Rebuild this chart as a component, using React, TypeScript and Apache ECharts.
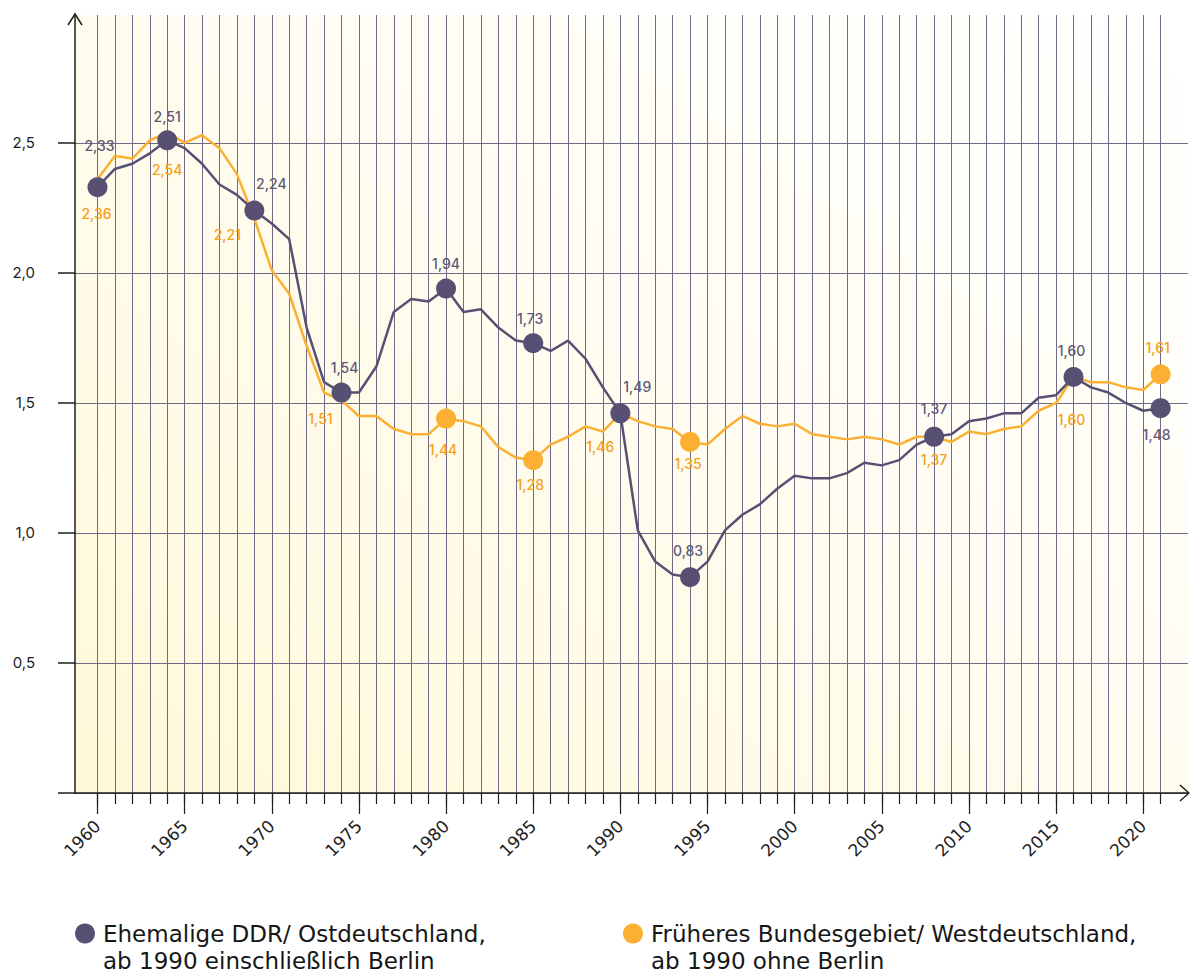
import React, { useEffect, useRef } from 'react';
import * as echarts from 'echarts';

const years = [
  1960, 1961, 1962, 1963, 1964, 1965, 1966, 1967, 1968, 1969,
  1970, 1971, 1972, 1973, 1974, 1975, 1976, 1977, 1978, 1979,
  1980, 1981, 1982, 1983, 1984, 1985, 1986, 1987, 1988, 1989,
  1990, 1991, 1992, 1993, 1994, 1995, 1996, 1997, 1998, 1999,
  2000, 2001, 2002, 2003, 2004, 2005, 2006, 2007, 2008, 2009,
  2010, 2011, 2012, 2013, 2014, 2015, 2016, 2017, 2018, 2019,
  2020, 2021,
];

const eastValues = [
  2.33, 2.40, 2.42, 2.46, 2.51, 2.48, 2.42, 2.34, 2.30, 2.24,
  2.19, 2.13, 1.79, 1.58, 1.54, 1.54, 1.64, 1.85, 1.90, 1.89,
  1.94, 1.85, 1.86, 1.79, 1.74, 1.73, 1.70, 1.74, 1.67, 1.56,
  1.46, 1.01, 0.89, 0.84, 0.83, 0.89, 1.01, 1.07, 1.11, 1.17,
  1.22, 1.21, 1.21, 1.23, 1.27, 1.26, 1.28, 1.34, 1.37, 1.38,
  1.43, 1.44, 1.46, 1.46, 1.52, 1.53, 1.60, 1.56, 1.54, 1.50,
  1.47, 1.48,
];

const westValues = [
  2.36, 2.45, 2.44, 2.51, 2.54, 2.50, 2.53, 2.48, 2.38, 2.21,
  2.01, 1.92, 1.72, 1.54, 1.51, 1.45, 1.45, 1.40, 1.38, 1.38,
  1.44, 1.43, 1.41, 1.33, 1.29, 1.28, 1.34, 1.37, 1.41, 1.39,
  1.46, 1.43, 1.41, 1.40, 1.35, 1.34, 1.40, 1.45, 1.42, 1.41,
  1.42, 1.38, 1.37, 1.36, 1.37, 1.36, 1.34, 1.37, 1.37, 1.35,
  1.39, 1.38, 1.40, 1.41, 1.47, 1.50, 1.60, 1.58, 1.58, 1.56,
  1.55, 1.61,
];

const highlightYears = [1960, 1964, 1969, 1974, 1980, 1985, 1990, 1994, 2008, 2016, 2021];
const westCircleYears = [1980, 1985, 1994, 2021];
const eastLabelOverrides: Record<number, string> = { 1990: '1,49' };
const xLabelYears = [1960, 1965, 1970, 1975, 1980, 1985, 1990, 1995, 2000, 2005, 2010, 2015, 2020];
const yTickValues = [0, 0.5, 1.0, 1.5, 2.0, 2.5];
const yLabelValues = [0.5, 1.0, 1.5, 2.0, 2.5];

const eastName = 'Ehemalige DDR/ Ostdeutschland, ab 1990 einschließlich Berlin';
const westName = 'Früheres Bundesgebiet/ Westdeutschland, ab 1990 ohne Berlin';

// label placement (style, not data)
const eastLabelOffsets: Record<number, number[]> = {
  1960: [2, -42], 1964: [0, -24], 1969: [17, -27], 1974: [3, -25], 1980: [0, -25],
  1985: [-3, -25], 1990: [17, -27], 1994: [-2, -27], 2008: [0, -28], 2016: [-2, -26], 2021: [-4, 26],
};
const westLabelOffsets: Record<number, number[]> = {
  1960: [-1, 34], 1964: [0, 37], 1969: [-27, 16], 1974: [-21, 18], 1980: [-3, 31],
  1985: [-3, 24], 1990: [-20, 33], 1994: [-2, 22], 2008: [0, 23], 2016: [-2, 43], 2021: [-3, -27],
};

const PURPLE = '#585073';
const ORANGE = '#fbb034';
const PURPLE_TEXT = '#5f5879';
const ORANGE_TEXT = '#f5a01a';
const GRID_COLOR = '#6f6a88';
const AXIS_COLOR = '#1e1e1e';
const FONT = 'Inter, "Noto Sans", sans-serif';
const WIDE_FONT = '"DejaVu Sans", Inter, sans-serif';

const fmt = (v: number) => v.toFixed(2).replace('.', ',');

export default function App() {
  const ref = useRef<HTMLDivElement>(null);

  useEffect(() => {
    document.body.style.margin = '0';
    if (!ref.current) return;
    const chart = echarts.init(ref.current, null, { renderer: 'svg' });

    const eastLine = years.map((y, i) => [y, eastValues[i]]);
    const westLine = years.map((y, i) => [y, westValues[i]]);

    const eastPoints = highlightYears.map((y) => {
      const i = years.indexOf(y);
      const v = eastValues[i];
      return {
        value: [y, v],
        symbolSize: 20,
        label: {
          show: true,
          position: 'inside',
          offset: eastLabelOffsets[y],
          formatter: eastLabelOverrides[y] ?? fmt(v),
        },
      };
    });
    const westPoints = highlightYears.map((y) => {
      const i = years.indexOf(y);
      const v = westValues[i];
      return {
        value: [y, v],
        symbolSize: westCircleYears.includes(y) ? 20 : 0,
        label: {
          show: true,
          position: 'inside',
          offset: westLabelOffsets[y],
          formatter: fmt(v),
        },
      };
    });

    const xMin = 1958.71;
    const xMax = 2022.57;

    const legendBase = {
      top: 893,
      padding: 0,
      itemWidth: 20,
      itemHeight: 20,
      icon: 'circle',
      formatter: (n: string) => '\n' + n.replace(', ', ',\n'),
      textStyle: {
        fontFamily: WIDE_FONT,
        fontSize: 23,
        lineHeight: 27,
        color: '#161616',
        padding: [0, 0, 0, 3],
      },
    };

    const option: any = {
      animation: false,
      backgroundColor: '#ffffff',
      textStyle: { fontFamily: FONT },
      grid: {
        left: 75,
        right: 2,
        top: 15,
        bottom: 182,
        show: true,
        borderWidth: 0,
        backgroundColor: new echarts.graphic.LinearGradient(0, 1, 1, 0, [
          { offset: 0, color: '#fff8d8' },
          { offset: 0.55, color: '#fffdf2' },
          { offset: 1, color: '#ffffff' },
        ]),
      },
      legend: [
        { ...legendBase, left: 75, data: [eastName] },
        { ...legendBase, left: 623, data: [westName] },
      ],
      xAxis: [
        {
          type: 'value',
          min: xMin,
          max: xMax,
          position: 'bottom',
          axisLine: { show: true, lineStyle: { color: AXIS_COLOR, width: 1.5 } },
          axisTick: { show: true, customValues: years, length: 11, lineStyle: { color: AXIS_COLOR, width: 1.2 } },
          axisLabel: { show: false },
          splitLine: { show: true, lineStyle: { color: GRID_COLOR, width: 1 } },
        },
        {
          type: 'value',
          min: xMin,
          max: xMax,
          position: 'bottom',
          axisLine: { show: false },
          axisTick: { show: true, customValues: xLabelYears, length: 21, lineStyle: { color: AXIS_COLOR, width: 1.2 } },
          axisLabel: {
            show: true,
            customValues: xLabelYears,
            rotate: 45,
            margin: 30,
            fontSize: 17,
            color: '#1e1e1e',
            fontFamily: WIDE_FONT,
            formatter: (v: number) => String(Math.round(v)),
          },
          splitLine: { show: false },
        },
      ],
      yAxis: {
        type: 'value',
        min: 0,
        max: 2.992,
        axisLine: { show: true, lineStyle: { color: AXIS_COLOR, width: 1.5 } },
        axisTick: { show: true, customValues: yTickValues, length: 17, lineStyle: { color: AXIS_COLOR, width: 1.5 } },
        axisLabel: {
          customValues: yLabelValues,
          margin: 40,
          fontSize: 15,
          color: '#1e1e1e',
          fontFamily: FONT,
          formatter: (v: number) => v.toFixed(1).replace('.', ','),
        },
        splitLine: { show: true, lineStyle: { color: GRID_COLOR, width: 1 } },
      },
      graphic: [
        {
          type: 'polyline',
          shape: { points: [[68, 25], [75, 14], [82, 25]] },
          style: { stroke: AXIS_COLOR, lineWidth: 1.5, fill: 'none' },
          z: 100,
        },
        {
          type: 'line',
          shape: { x1: 75, y1: 14, x2: 75, y2: 16 },
          style: { stroke: AXIS_COLOR, lineWidth: 1.5 },
          z: 100,
        },
        {
          type: 'polyline',
          shape: { points: [[1180, 785], [1189, 793], [1180, 801]] },
          style: { stroke: AXIS_COLOR, lineWidth: 1.5, fill: 'none' },
          z: 100,
        },
      ],
      series: [
        {
          name: westName,
          type: 'line',
          data: westLine,
          showSymbol: false,
          color: ORANGE,
          lineStyle: { color: ORANGE, width: 2.5 },
          z: 2,
          silent: true,
        },
        {
          name: westName,
          type: 'scatter',
          data: westPoints,
          symbol: 'circle',
          itemStyle: { color: ORANGE, opacity: 1 },
          label: { color: ORANGE_TEXT, fontSize: 14, fontWeight: 500, fontFamily: FONT },
          z: 3,
          silent: true,
        },
        {
          name: eastName,
          type: 'line',
          data: eastLine,
          showSymbol: false,
          color: PURPLE,
          lineStyle: { color: PURPLE, width: 2.5 },
          z: 4,
          silent: true,
        },
        {
          name: eastName,
          type: 'scatter',
          data: eastPoints,
          symbol: 'circle',
          itemStyle: { color: PURPLE, opacity: 1 },
          label: { color: PURPLE_TEXT, fontSize: 14, fontWeight: 500, fontFamily: FONT },
          z: 5,
          silent: true,
        },
      ],
    };

    chart.setOption(option);
    return () => chart.dispose();
  }, []);

  return <div ref={ref} style={{ width: 1190, height: 975 }} />;
}
